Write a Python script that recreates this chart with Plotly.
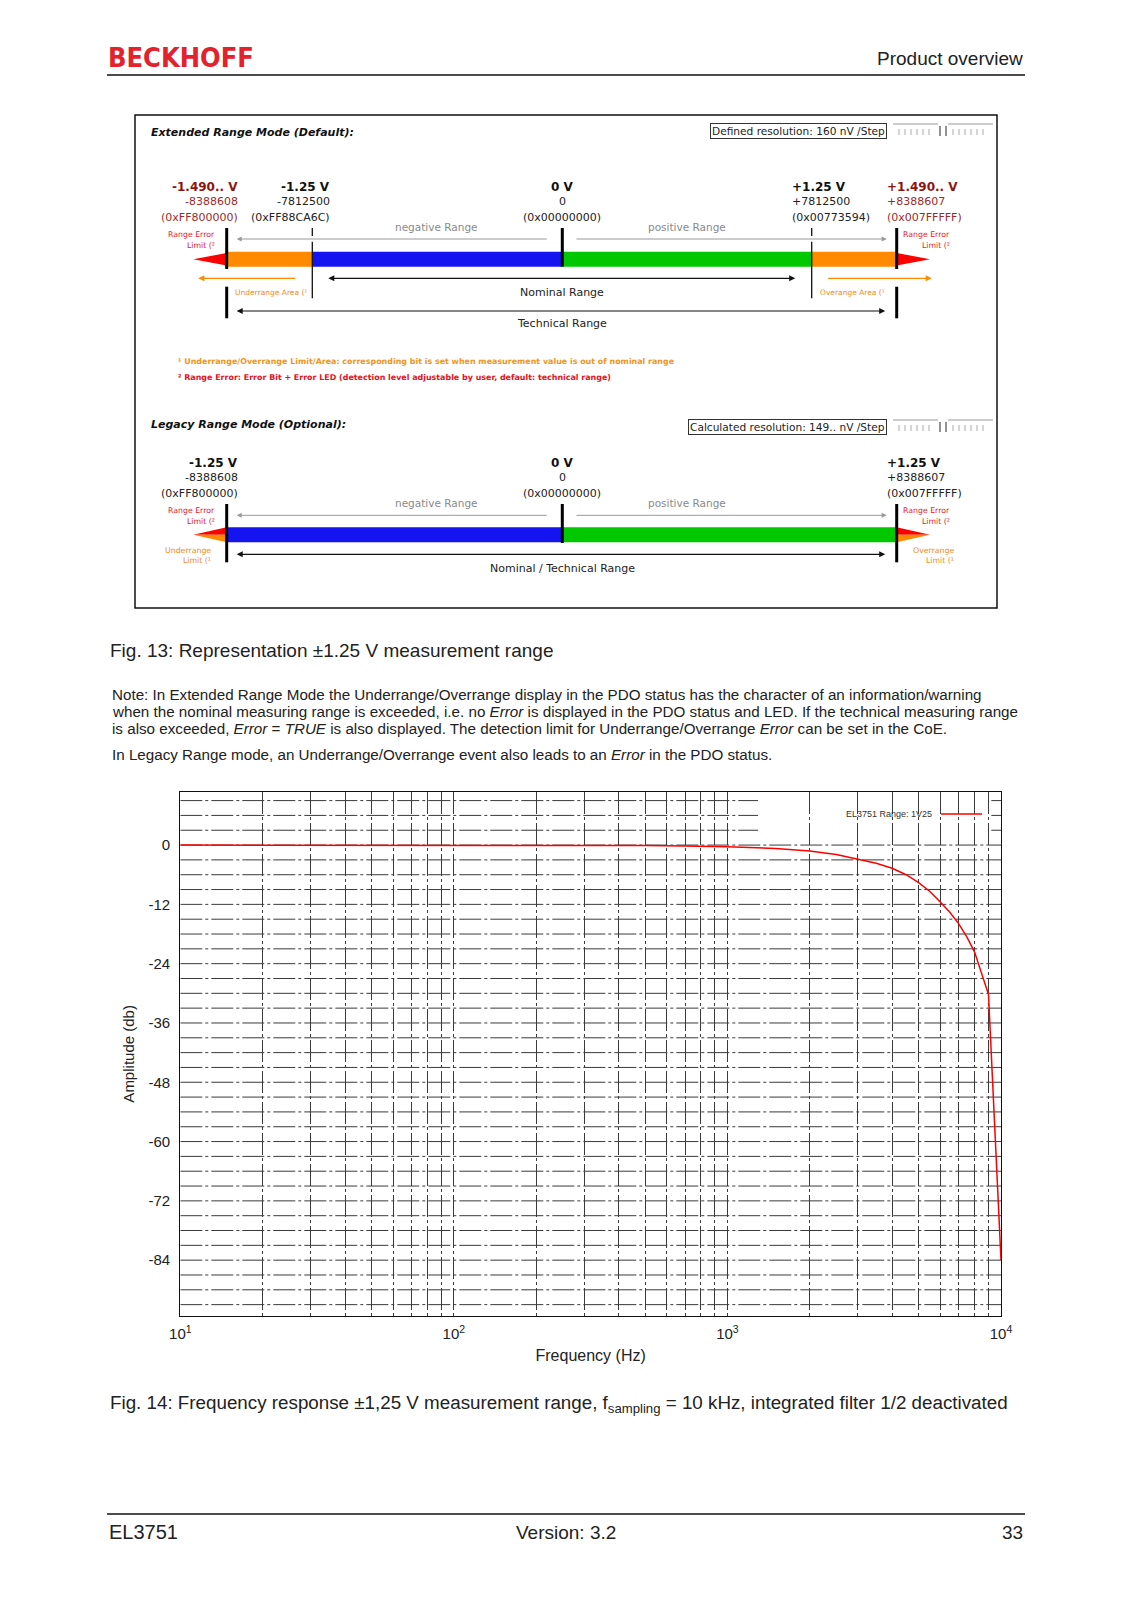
import plotly.graph_objects as go

# ---------------- data (frequency response) ----------------
freq_hz = [10, 20, 50, 100, 200, 300, 500, 700, 1000, 1500, 2000, 2500, 3000, 3500,
           4000, 4500, 5000, 5500, 6000, 6500, 7000, 7500, 8000, 9000, 10000]
amp_db = [0, 0, 0, 0, 0, -0.05, -0.1, -0.2, -0.35, -0.7, -1.2, -1.9, -2.8, -3.7,
          -4.7, -6.0, -7.6, -9.4, -11.5, -13.6, -15.9, -18.6, -21.6, -30.2, -84.0]
series_name = "EL3751 Range: 1V25"
y_tick_vals = [0, -12, -24, -36, -48, -60, -72, -84]
y_tick_text = ["0", "-12", "-24", "-36", "-48", "-60", "-72", "-84"]
x_tick_vals = [10, 100, 1000, 10000]
x_tick_text = ["10<sup>1</sup>", "10<sup>2</sup>", "10<sup>3</sup>", "10<sup>4</sup>"]

# ---------------- diagram labels ----------------
ext_titles = ["-1.490.. V", "-1.25 V", "0 V", "+1.25 V", "+1.490.. V"]
ext_values = ["-8388608", "-7812500", "0", "+7812500", "+8388607"]
ext_hex = ["(0xFF800000)", "(0xFF88CA6C)", "(0x00000000)", "(0x00773594)", "(0x007FFFFF)"]
leg_titles = ["-1.25 V", "0 V", "+1.25 V"]
leg_values = ["-8388608", "0", "+8388607"]
leg_hex = ["(0xFF800000)", "(0x00000000)", "(0x007FFFFF)"]

W, H = 1132, 1600
OFFX, OFFY = 8, 8
PAGE = "Liberation Sans, Arial, sans-serif"
DIAG = "DejaVu Sans, Verdana, sans-serif"


def X(px):
    return (px - OFFX) / W


def Y(py):
    return 1 - (py - OFFY) / H


ann = []
shp = []


def txt(x, y, s, size, color="#111", xa="left", family=PAGE, **kw):
    d = dict(x=X(x), y=Y(y), xref="paper", yref="paper", text=s, showarrow=False,
             xanchor=xa, yanchor="middle", font=dict(size=size, color=color, family=family))
    d.update(kw)
    ann.append(d)


def arrow(xh, y, xt, color, width=1.2, both=False):
    ann.append(dict(x=X(xh), y=Y(y), xref="paper", yref="paper", text="",
                    showarrow=True, ax=xt - xh, ay=0, axref="pixel", ayref="pixel",
                    arrowhead=2, arrowsize=1.0, arrowwidth=width, arrowcolor=color,
                    arrowside="end+start" if both else "end", standoff=0, startstandoff=0))


def vline(x, y0, y1, color="#000", width=3):
    shp.append(dict(type="line", xref="paper", yref="paper", x0=X(x), x1=X(x),
                    y0=Y(y0), y1=Y(y1), line=dict(color=color, width=width)))


def hline(x0, x1, y, color="#000", width=1.2):
    shp.append(dict(type="line", xref="paper", yref="paper", x0=X(x0), x1=X(x1),
                    y0=Y(y), y1=Y(y), line=dict(color=color, width=width)))


def rect(x0, x1, y0, y1, fill, line=None, lw=0):
    shp.append(dict(type="rect", xref="paper", yref="paper", x0=X(x0), x1=X(x1),
                    y0=Y(y1), y1=Y(y0), fillcolor=fill,
                    line=dict(color=line or fill, width=lw)))


def tri(pts, fill):
    path = "M " + " L ".join(f"{X(a):.5f},{Y(b):.5f}" for a, b in pts) + " Z"
    shp.append(dict(type="path", xref="paper", yref="paper", path=path,
                    fillcolor=fill, line=dict(width=0)))


# ---------------- page header / footer ----------------
txt(106, 57, "<b>BECKHOFF</b>", 27, "#e3222e",
    family="DejaVu Sans Condensed, Liberation Sans, sans-serif")
txt(1025, 59, "Product overview", 19, "#222", xa="right")
hline(107, 1025, 75, "#111", 1.3)
hline(107, 1025, 1514, "#111", 1.3)
txt(107, 1532, "EL3751", 20, "#222")
txt(566, 1532, "Version: 3.2", 19, "#222", xa="center")
txt(1025, 1532, "33", 19, "#222", xa="right")

# ---------------- diagram (Fig. 13) ----------------
ORANGE, BLUE, GREEN, RED = "#ff8a00", "#1414f0", "#00c800", "#ff0000"
DRED, DRED2 = "#8e1414", "#9c2a2a"
OTXT, RTXT, GRAY = "#f08a1c", "#e4202a", "#8a8a8a"

rect(135, 997, 115, 608, "rgba(0,0,0,0)", "#111", 1.5)

txt(149, 132, "<b><i>Extended Range Mode (Default):</i></b>", 11, "#111", family=DIAG)
txt(887, 131, "Defined resolution: 160 nV /Step", 10.6, "#222", xa="right", family=DIAG,
    bordercolor="#333", borderwidth=1, borderpad=1)
txt(149, 424, "<b><i>Legacy Range Mode (Optional):</i></b>", 11, "#111", family=DIAG)
txt(887, 427, "Calculated resolution: 149.. nV /Step", 10.6, "#222", xa="right", family=DIAG,
    bordercolor="#333", borderwidth=1, borderpad=1)

for yy in (124, 420):
    hline(893, 938, yy, "#999", 1)
    hline(948, 993, yy, "#999", 1)
    for i in range(6):
        vline(899 + 6 * i, yy + 5, yy + 11, "#aaa", 1)
        vline(953 + 6 * i, yy + 5, yy + 11, "#aaa", 1)
    vline(940, yy + 2, yy + 12, "#777", 1.6)
    vline(946, yy + 2, yy + 12, "#777", 1.6)

col_x = [240, 332, 562, 790, 885]
col_a = ["right", "right", "center", "left", "left"]
col_c = [(DRED, DRED2), ("#111", "#222"), ("#111", "#222"), ("#111", "#222"), (DRED, DRED2)]
for i in range(5):
    txt(col_x[i], 187, "<b>" + ext_titles[i] + "</b>", 12, col_c[i][0], xa=col_a[i], family=DIAG)
    txt(col_x[i], 201.5, ext_values[i], 11, col_c[i][1], xa=col_a[i], family=DIAG)
    txt(col_x[i], 218, ext_hex[i], 11, col_c[i][1], xa=col_a[i], family=DIAG)

txt(436.7, 226.5, "negative Range", 10.5, GRAY, xa="center", family=DIAG)
txt(686.7, 226.5, "positive Range", 10.5, GRAY, xa="center", family=DIAG)
arrow(236.7, 239, 548.3, "#999", 1)
arrow(886.7, 239, 575, "#999", 1)

rect(226.7, 312.3, 251.7, 266.7, ORANGE)
rect(312.3, 562.3, 251.7, 266.7, BLUE)
rect(562.3, 811.7, 251.7, 266.7, GREEN)
rect(811.7, 896.7, 251.7, 266.7, ORANGE)
tri([(226.7, 253), (193.3, 259.2), (226.7, 265.5)], RED)
tri([(896.7, 253), (930, 259.2), (896.7, 265.5)], RED)

vline(226.7, 228, 269)
vline(562.3, 228, 266.7)
vline(896.7, 228, 269)
vline(312.3, 228, 236, "#111", 1.3)
vline(312.3, 241.7, 298.3, "#111", 1.3)
vline(811.7, 228, 236, "#111", 1.3)
vline(811.7, 241.7, 298.3, "#111", 1.3)
vline(226.7, 286.7, 318.3)
vline(896.7, 286.7, 318.3)

txt(216.7, 235, "Range Error", 7.8, RTXT, xa="right", family=DIAG)
txt(216.7, 245, "Limit (²", 7.8, RTXT, xa="right", family=DIAG)
txt(952, 235, "Range Error", 7.8, RTXT, xa="right", family=DIAG)
txt(952, 245, "Limit (²", 7.8, RTXT, xa="right", family=DIAG)

arrow(198.3, 278.3, 296.7, ORANGE, 1.2)
arrow(931.7, 278.3, 826.7, ORANGE, 1.2)
arrow(328.3, 278.3, 796.7, "#111", 1.2, both=True)
arrow(236.7, 311, 886.7, "#111", 1.2, both=True)
txt(562, 292.7, "Nominal Range", 11, "#222", xa="center", family=DIAG)
txt(562, 323.3, "Technical Range", 11, "#222", xa="center", family=DIAG)
txt(233, 292.7, "Underrange Area (¹", 7.5, OTXT, family=DIAG)
txt(818, 292.7, "Overange Area (¹", 7.5, OTXT, family=DIAG)

txt(176, 361.7, "<b>¹ Underrange/Overrange Limit/Area: corresponding bit is set when measurement value is out of nominal range</b>",
    7.95, "#f29420", family=DIAG)
txt(176, 377.7, "<b>² Range Error: Error Bit + Error LED (detection level adjustable by user, default: technical range)</b>",
    7.95, "#e8101a", family=DIAG)

lcol_x = [240, 562, 885]
lcol_a = ["right", "center", "left"]
for i in range(3):
    txt(lcol_x[i], 463.3, "<b>" + leg_titles[i] + "</b>", 12, "#111", xa=lcol_a[i], family=DIAG)
    txt(lcol_x[i], 477.7, leg_values[i], 11, "#222", xa=lcol_a[i], family=DIAG)
    txt(lcol_x[i], 493.3, leg_hex[i], 11, "#222", xa=lcol_a[i], family=DIAG)

txt(436.7, 502.7, "negative Range", 10.5, GRAY, xa="center", family=DIAG)
txt(686.7, 502.7, "positive Range", 10.5, GRAY, xa="center", family=DIAG)
arrow(236.7, 515.3, 548.3, "#999", 1)
arrow(886.7, 515.3, 575, "#999", 1)

rect(226.7, 562.3, 527.3, 542.3, BLUE)
rect(562.3, 896.7, 527.3, 542.3, GREEN)
tri([(226.7, 527.3), (193.3, 534.8), (226.7, 534.8)], RED)
tri([(226.7, 534.8), (193.3, 534.8), (226.7, 542.3)], ORANGE)
tri([(896.7, 527.3), (930, 534.8), (896.7, 534.8)], RED)
tri([(896.7, 534.8), (930, 534.8), (896.7, 542.3)], ORANGE)
vline(226.7, 504, 562.3)
vline(562.3, 504, 543)
vline(896.7, 504, 562.3)

txt(216.7, 510.7, "Range Error", 7.8, RTXT, xa="right", family=DIAG)
txt(216.7, 521.7, "Limit (²", 7.8, RTXT, xa="right", family=DIAG)
txt(952, 510.7, "Range Error", 7.8, RTXT, xa="right", family=DIAG)
txt(952, 521.7, "Limit (²", 7.8, RTXT, xa="right", family=DIAG)
txt(213.3, 550, "Underrange", 7.8, OTXT, xa="right", family=DIAG)
txt(213.3, 560, "Limit (¹", 7.8, OTXT, xa="right", family=DIAG)
txt(956, 550, "Overrange", 7.8, OTXT, xa="right", family=DIAG)
txt(956, 560, "Limit (¹", 7.8, OTXT, xa="right", family=DIAG)
arrow(236.7, 554.3, 886.7, "#111", 1.2, both=True)
txt(562, 568.3, "Nominal / Technical Range", 11, "#222", xa="center", family=DIAG)

# ---------------- captions and note ----------------
txt(108, 650, "Fig. 13: Representation ±1.25 V measurement range", 19, "#222")
note = [
    "Note: In Extended Range Mode the Underrange/Overrange display in the PDO status has the character of an information/warning",
    "when the nominal measuring range is exceeded, i.e. no <i>Error</i> is displayed in the PDO status and LED. If the technical measuring range",
    "is also exceeded, <i>Error</i> = <i>TRUE</i> is also displayed. The detection limit for Underrange/Overrange <i>Error</i> can be set in the CoE.",
]
for i, line in enumerate(note):
    txt(110, 694 + 17.3 * i, line, 15.2, "#222")
txt(110, 755, "In Legacy Range mode, an Underrange/Overrange event also leads to an <i>Error</i> in the PDO status.", 15.2, "#222")
txt(108, 1404, "Fig. 14: Frequency response ±1,25 V measurement range, f<sub>sampling</sub> = 10 kHz, integrated filter 1/2 deactivated",
    18.8, "#222")

# ---------------- frequency response plot ----------------
GRID = "#3a3a3a"
DASH = "22px,3px,3px,3px"
Y_TOP, Y_BOT = 10.8, -95.3
for v in range(9, -94, -3):
    shp.append(dict(type="line", xref="x", yref="y", x0=10, x1=10000, y0=v, y1=v,
                    layer="below", line=dict(color=GRID, width=1, dash=DASH)))
# legend background box (covers horizontal grid)
shp.append(dict(type="rect", xref="x", yref="y", x0=1294, x1=9218, y0=1.5, y1=Y_TOP,
                layer="below", fillcolor="white", line=dict(width=0)))
# legend sample
hline(941, 982, 814, "#ff0000", 1.4)
txt(934, 814, series_name, 9, "#333", xa="right")

minor_vals = [d * m for d in (10, 100, 1000) for m in range(2, 10)]

fig = go.Figure()
fig.add_trace(go.Scatter(x=freq_hz, y=amp_db, mode="lines", name=series_name,
                         line=dict(color="#ff0000", width=1.5), showlegend=False))

fig.update_layout(
    width=W, height=H, margin=dict(l=0, r=0, t=0, b=0),
    paper_bgcolor="white", plot_bgcolor="white",
    font=dict(family=PAGE, color="#222"),
    xaxis=dict(type="log", range=[1, 4], domain=[X(180.3), X(1001)],
               tickvals=x_tick_vals, ticktext=x_tick_text, ticks="",
               tickfont=dict(size=15, color="#222"), ticklabelstandoff=4,
               showgrid=True, gridcolor=GRID, gridwidth=1, griddash=DASH,
               minor=dict(tickvals=minor_vals, showgrid=True, gridcolor=GRID, gridwidth=1,
                          griddash=DASH, ticks=""),
               showline=True, mirror=True, linecolor="#111", linewidth=1.2,
               zeroline=False, automargin=False,
               title=dict(text="Frequency (Hz)", font=dict(size=16, color="#222"), standoff=8)),
    yaxis=dict(range=[Y_BOT, Y_TOP], domain=[Y(1316), Y(791.7)],
               tickvals=y_tick_vals, ticktext=y_tick_text, ticks="",
               tickfont=dict(size=15, color="#222"),
               ticklabelstandoff=6, showgrid=False, zeroline=False,
               showline=True, mirror=True, linecolor="#111", linewidth=1.2, automargin=False,
               title=dict(text="Amplitude (db)", font=dict(size=15, color="#222"), standoff=10)),
    shapes=shp, annotations=ann, showlegend=False,
)

fig.write_html("out.html")
